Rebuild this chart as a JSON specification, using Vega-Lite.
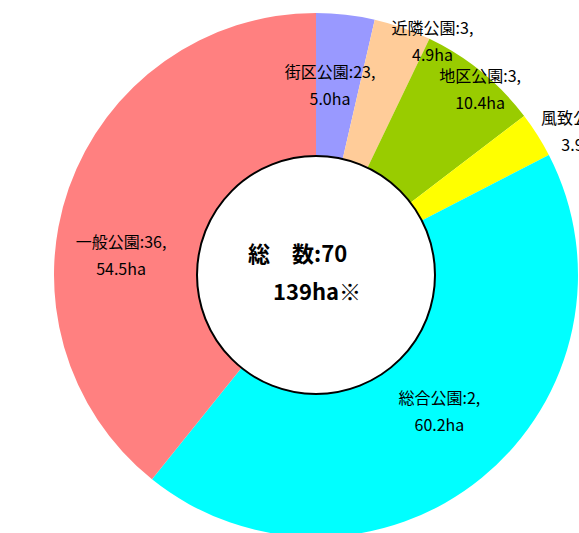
{
  "$schema": "https://vega.github.io/schema/vega-lite/v6.json",
  "width": 526,
  "height": 516,
  "autosize": {"type": "none"},
  "padding": {"left": 53, "top": 17, "right": 0, "bottom": 0},
  "background": "white",
  "config": {"view": {"stroke": null}},
  "layer": [
    {
      "data": {
        "values": [
          {"order": 1, "name": "街区公園", "count": 23, "ha": 5.0},
          {"order": 2, "name": "近隣公園", "count": 3, "ha": 4.9},
          {"order": 3, "name": "地区公園", "count": 3, "ha": 10.4},
          {"order": 4, "name": "風致公園", "count": 3, "ha": 3.9},
          {"order": 5, "name": "総合公園", "count": 2, "ha": 60.2},
          {"order": 6, "name": "一般公園", "count": 36, "ha": 54.5}
        ]
      },
      "transform": [
        {"calculate": "datum.name + ':' + datum.count + ',\\n' + format(datum.ha, '.1f') + 'ha'", "as": "label"}
      ],
      "layer": [
        {
          "mark": {"type": "arc", "outerRadius": 262, "innerRadius": 100},
          "encoding": {
            "theta": {"field": "ha", "type": "quantitative", "stack": true},
            "order": {"field": "order", "type": "quantitative"},
            "color": {
              "field": "name",
              "type": "nominal",
              "scale": {
                "domain": ["街区公園", "近隣公園", "地区公園", "風致公園", "総合公園", "一般公園"],
                "range": ["#9999FF", "#FFCC99", "#99CC00", "#FFFF00", "#00FFFF", "#FF8080"]
              },
              "legend": null
            }
          }
        },
        {
          "mark": {
            "type": "text",
            "radius": 195,
            "font": "Noto Sans CJK JP",
            "fontSize": 16,
            "color": "#000000",
            "lineBreak": "\n",
            "lineHeight": 27,
            "align": "center",
            "baseline": "middle",
            "dx": {"expr": "datum.order == 1 ? -8 : datum.order == 2 ? 52 : datum.order == 3 ? 41 : datum.order == 4 ? 101 : datum.order == 5 ? 0 : -11"},
            "dy": {"expr": "datum.order == 1 ? -8 : datum.order == 2 ? -62 : datum.order == 3 ? -47 : datum.order == 4 ? -52 : datum.order == 5 ? -27 : 33"}
          },
          "encoding": {
            "theta": {"field": "ha", "type": "quantitative", "stack": true},
            "order": {"field": "order", "type": "quantitative"},
            "text": {"field": "label", "type": "nominal"}
          }
        }
      ]
    },
    {
      "data": {"values": [{"line1": "総　数:70", "line2": "139ha※"}]},
      "layer": [
        {
          "mark": {"type": "arc", "theta": 0, "theta2": 6.2832, "radius": 119, "radius2": 0, "fill": "white", "stroke": "black", "strokeWidth": 2},
          "encoding": {}
        },
        {
          "mark": {
            "type": "text",
            "x": {"expr": "width/2"},
            "y": {"expr": "height/2"},
            "align": "left",
            "baseline": "middle",
            "dx": -68,
            "dy": -20,
            "font": "Noto Sans CJK JP",
            "fontSize": 22,
            "fontWeight": "bold",
            "color": "#000000"
          },
          "encoding": {"text": {"field": "line1", "type": "nominal"}}
        },
        {
          "mark": {
            "type": "text",
            "x": {"expr": "width/2"},
            "y": {"expr": "height/2"},
            "align": "left",
            "baseline": "middle",
            "dx": -43,
            "dy": 18,
            "font": "Noto Sans CJK JP",
            "fontSize": 22,
            "fontWeight": "bold",
            "color": "#000000"
          },
          "encoding": {"text": {"field": "line2", "type": "nominal"}}
        }
      ]
    }
  ]
}
